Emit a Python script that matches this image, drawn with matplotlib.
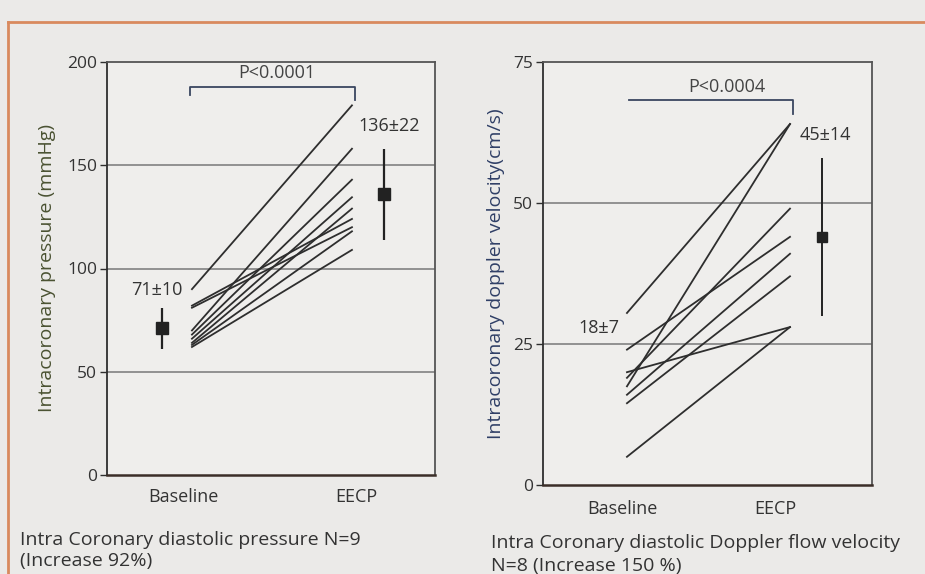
import matplotlib
matplotlib.use("Agg")
import matplotlib.pyplot as plt
from matplotlib.lines import Line2D

plt.rcParams['font.family'] = ['Open Sans', 'DejaVu Sans']

# left panel: intracoronary diastolic pressure (mmHg), N=9
pressure_base = [90, 82, 81, 70, 68, 66, 64, 63, 62]
pressure_eecp = [179, 124, 120, 158, 143, 134.5, 129, 118, 109]
pressure_mean = [71, 136]
pressure_sd = [10, 22]

# right panel: doppler flow velocity (cm/s), N=8
velocity_base = [30.5, 17.5, 24, 20, 19, 16, 14.5, 5]
velocity_eecp = [64, 64, 44, 28, 49, 41, 37, 28]
velocity_mean = [44, 44]
velocity_sd = [14, 14]

groups = ["Baseline", "EECP"]

bg = '#ebeae8'
ink = '#2e2e2e'
grid_c = '#8a8a8a'
txt = '#333333'

fig = plt.figure(figsize=(9.25, 5.74), dpi=100, facecolor=bg)

# orange frame of the scanned page
fig.add_artist(Line2D([8 / 925, 1.0], [1 - 22 / 574, 1 - 22 / 574], color='#d98a5e', lw=2))
fig.add_artist(Line2D([8 / 925, 8 / 925], [1 - 22 / 574, 0.0], color='#d98a5e', lw=2))

ax1 = fig.add_axes([107 / 925, 1 - 475 / 574, 328 / 925, 413 / 574])
ax2 = fig.add_axes([543 / 925, 1 - 485 / 574, 329 / 925, 423 / 574])

for ax in (ax1, ax2):
    ax.set_facecolor('#efeeec')
    for s in ax.spines.values():
        s.set_color('#555555')
        s.set_linewidth(1.3)
    ax.spines['left'].set_color(ink)
    ax.spines['bottom'].set_color('#3b2e28')
    ax.spines['bottom'].set_linewidth(1.8)
    ax.tick_params(axis='y', direction='out', length=5, width=1, color=ink,
                   labelsize=12.5, labelcolor=txt, pad=2)
    ax.tick_params(axis='x', length=0, labelsize=13, labelcolor=txt, pad=9)

# ---- left panel
ax1.set_xlim(0.469, 2.519)
ax1.set_ylim(0, 200)
ax1.set_yticks([0, 50, 100, 150, 200])
for g in [50, 100, 150]:
    ax1.axhline(g, color=grid_c, lw=1.3, zorder=1)
for b, e in zip(pressure_base, pressure_eecp):
    ax1.plot([1, 2], [b, e], color=ink, lw=1.3, zorder=3)
ax1.errorbar([0.8125, 2.2], pressure_mean, yerr=pressure_sd, fmt='s', color='#222222',
             ms=8, elinewidth=1.6, capsize=0, zorder=4)
ax1.set_xticks([0.944, 2.03])
ax1.set_xticklabels(groups)
ax1.set_ylabel("Intracoronary pressure (mmHg)", fontsize=14, color='#4a5232', labelpad=8)
ax1.plot([0.99, 0.99, 2.02, 2.02], [184, 188, 188, 181.5], color='#3a4660', lw=1.3,
         clip_on=False, zorder=3)
ax1.text(1.53, 190.5, "P<0.0001", ha='center', va='bottom', fontsize=13, color='#444444')
ax1.text(0.78, 89.5, "71±10", ha='center', va='center', fontsize=13, color=txt)
ax1.text(2.23, 169, "136±22", ha='center', va='center', fontsize=13, color=txt)

# ---- right panel
ax2.set_xlim(0.485, 2.503)
ax2.set_ylim(0, 75)
ax2.set_yticks([0, 25, 50, 75])
for g in [25, 50]:
    ax2.axhline(g, color=grid_c, lw=1.3, zorder=1)
for b, e in zip(velocity_base, velocity_eecp):
    ax2.plot([1, 2], [b, e], color=ink, lw=1.3, zorder=3)
ax2.errorbar([2.195], velocity_mean[1:], yerr=velocity_sd[1:], fmt='s', color='#222222',
             ms=7, elinewidth=1.4, capsize=0, zorder=4)
ax2.set_xticks([0.97, 1.91])
ax2.set_xticklabels(groups)
ax2.tick_params(axis='x', pad=11)
ax2.set_ylabel("Intracoronary doppler velocity(cm/s)", fontsize=14, color='#2f3f66', labelpad=6)
ax2.plot([1.01, 2.02, 2.02], [68.3, 68.3, 65.8], color='#3a4660', lw=1.3, zorder=3)
ax2.text(1.61, 69.0, "P<0.0004", ha='center', va='bottom', fontsize=13, color='#444444')
ax2.text(0.83, 27.8, "18±7", ha='center', va='center', fontsize=13, color=txt)
ax2.text(2.22, 62, "45±14", ha='center', va='center', fontsize=13, color=txt)

# captions under the panels
fig.text(20 / 925, 1 - 540 / 574, "Intra Coronary diastolic pressure N=9", fontsize=14,
         color=txt, va='center')
fig.text(20 / 925, 1 - 561 / 574, "(Increase 92%)", fontsize=14, color=txt, va='center')
fig.text(491 / 925, 1 - 543 / 574, "Intra Coronary diastolic Doppler flow velocity", fontsize=14,
         color=txt, va='center')
fig.text(491 / 925, 1 - 566 / 574, "N=8 (Increase 150 %)", fontsize=14, color=txt, va='center')

fig.savefig("out.png", dpi=100, facecolor=bg)
